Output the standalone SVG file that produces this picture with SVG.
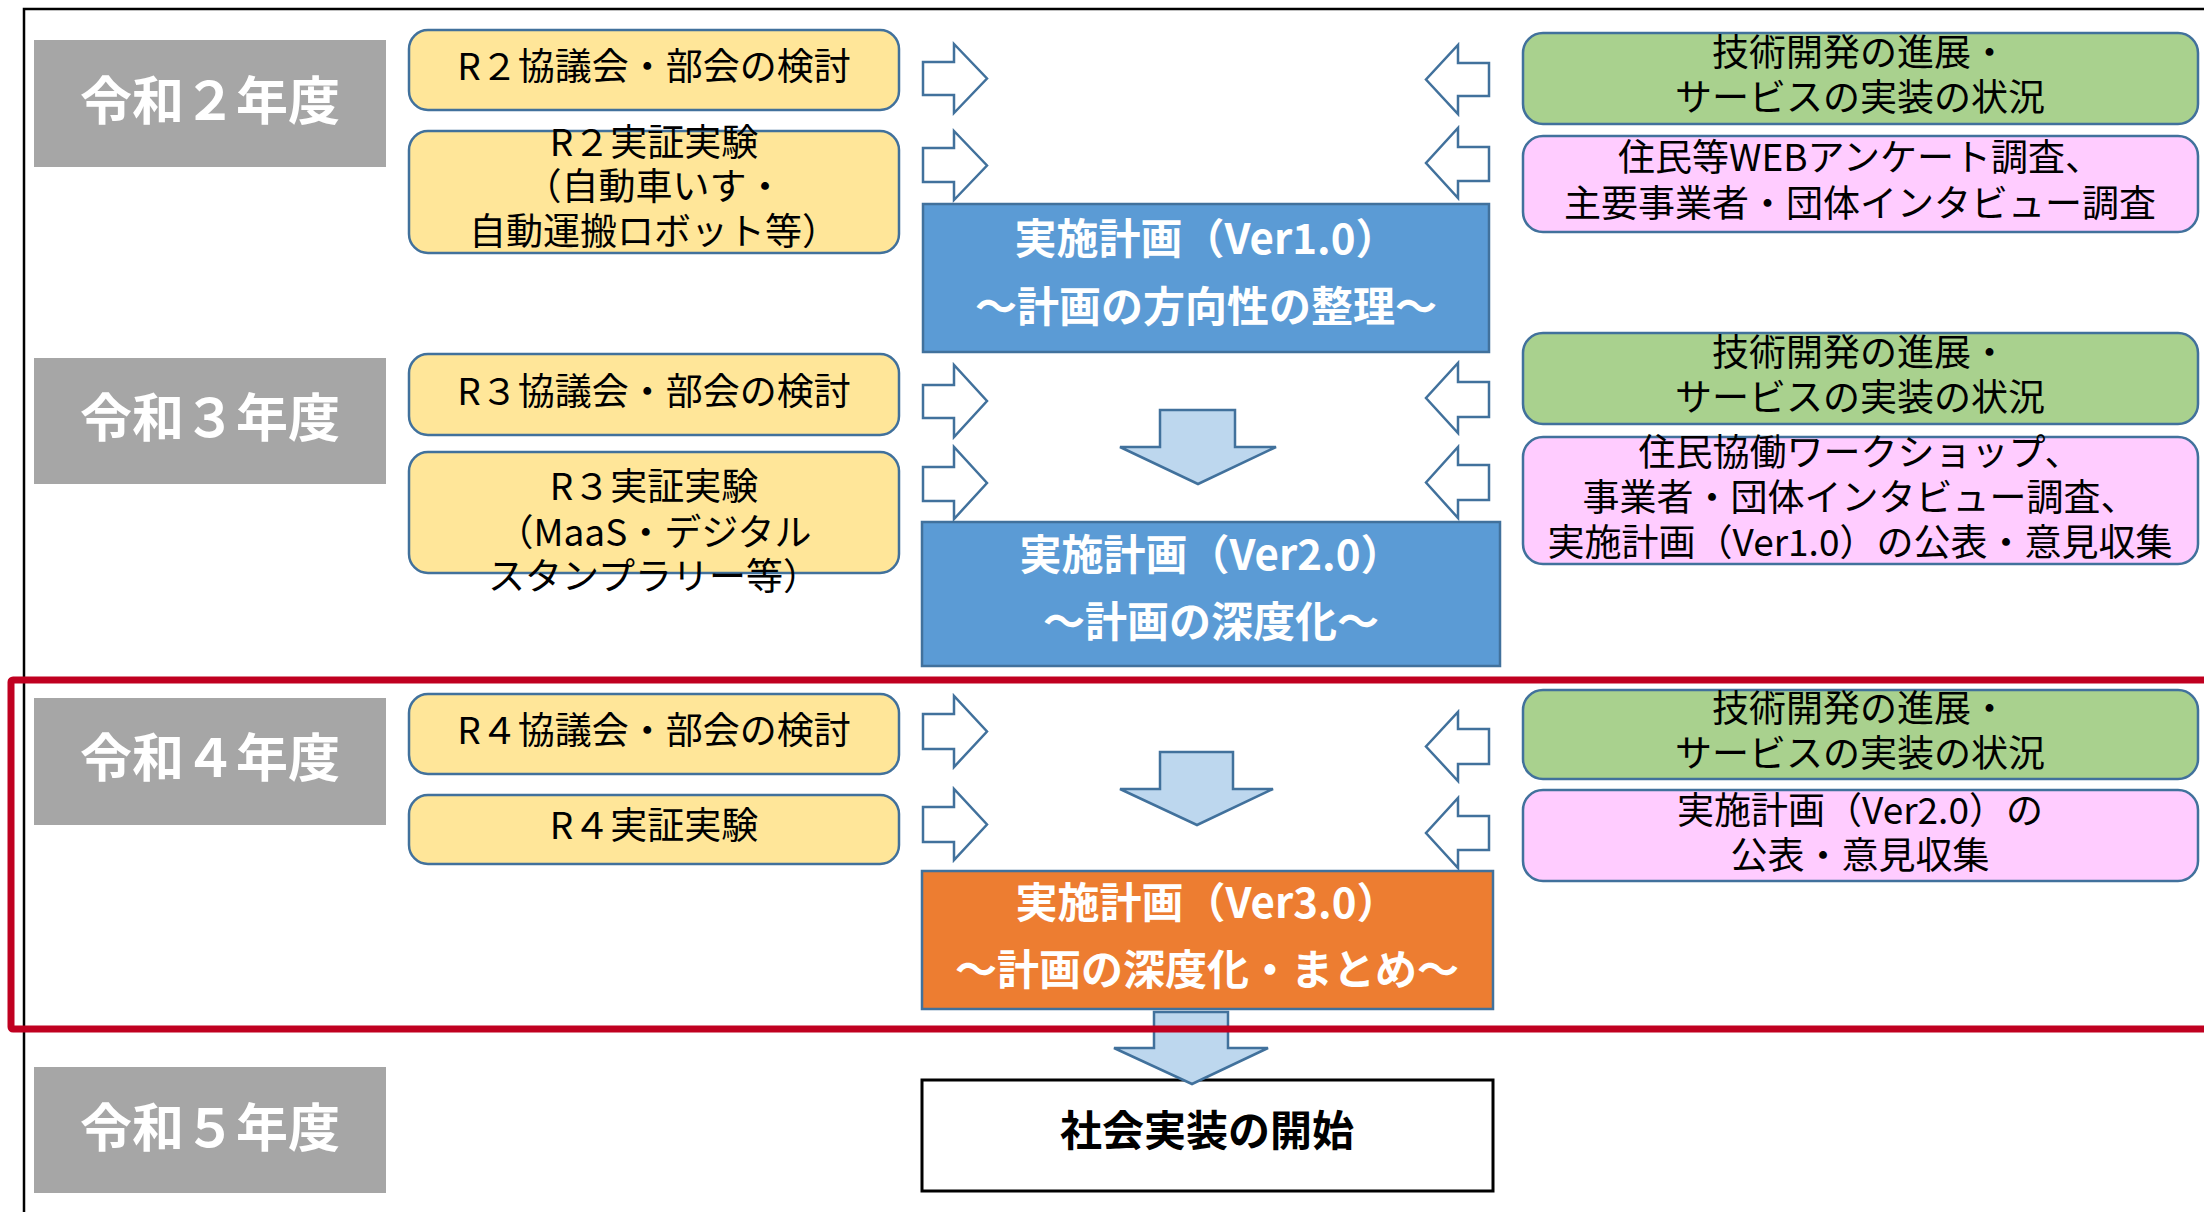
<svg xmlns="http://www.w3.org/2000/svg" width="2204" height="1212" viewBox="0 0 2204 1212">
<style>
text{font-family:"Noto Sans CJK JP","Noto Sans",sans-serif;text-anchor:middle}
.yr{fill:#A6A6A6}
.yrt{fill:#fff;font-weight:bold;font-size:52px}
.yel{fill:#FFE699;stroke:#41719C;stroke-width:2.5}
.grn{fill:#A9D18E;stroke:#41719C;stroke-width:2.5}
.pnk{fill:#FFCCFF;stroke:#41719C;stroke-width:2.5}
.t{fill:#000;font-size:37px}
.blu{fill:#5B9BD5;stroke:#41719C;stroke-width:2.5}
.org{fill:#ED7D31;stroke:#41719C;stroke-width:2.5}
.bt{fill:#fff;font-weight:bold;font-size:42px}
.hol{fill:#fff;stroke:#41719C;stroke-width:2.5;stroke-linejoin:miter}
.dn{fill:#BDD7EE;stroke:#41719C;stroke-width:2.5}
</style>
<rect id="frame" x="24" y="9" width="2200" height="1220" fill="none" stroke="#000" stroke-width="2.5"/>

<g id="year2"><rect class="yr" x="34" y="40" width="352" height="127"/><text class="yrt" x="210" y="120">令和２年度</text></g>
<g id="year3"><rect class="yr" x="34" y="358" width="352" height="126"/><text class="yrt" x="210" y="437">令和３年度</text></g>
<g id="year4"><rect class="yr" x="34" y="698" width="352" height="127"/><text class="yrt" x="210" y="777">令和４年度</text></g>
<g id="year5"><rect class="yr" x="34" y="1067" width="352" height="126"/><text class="yrt" x="210" y="1147">令和５年度</text></g>

<g id="r2council"><rect class="yel" x="409" y="30" width="490" height="80" rx="19"/><text class="t" x="654" y="80">R２協議会・部会の検討</text></g>
<g id="r2test"><rect class="yel" x="409" y="131" width="490" height="122" rx="19"/><text class="t" x="654" y="156">R２実証実験</text><text class="t" x="654" y="200">（自動車いす・</text><text class="t" x="654" y="245">自動運搬ロボット等）</text></g>
<g id="r3council"><rect class="yel" x="409" y="354" width="490" height="81" rx="19"/><text class="t" x="654" y="405">R３協議会・部会の検討</text></g>
<g id="r3test"><rect class="yel" x="409" y="452" width="490" height="121" rx="19"/><text class="t" x="654" y="500">R３実証実験</text><text class="t" x="654" y="546">（MaaS・デジタル</text><text class="t" x="654" y="590">スタンプラリー等）</text></g>
<g id="r4council"><rect class="yel" x="409" y="694" width="490" height="80" rx="19"/><text class="t" x="654" y="744">R４協議会・部会の検討</text></g>
<g id="r4test"><rect class="yel" x="409" y="795" width="490" height="69" rx="19"/><text class="t" x="654" y="839">R４実証実験</text></g>

<g id="plan1"><rect class="blu" x="923" y="204" width="566" height="148"/><text class="bt" x="1206" y="254">実施計画（Ver1.0）</text><text class="bt" x="1206" y="322">～計画の方向性の整理～</text></g>
<g id="plan2"><rect class="blu" x="922" y="522" width="578" height="144"/><text class="bt" x="1211" y="570">実施計画（Ver2.0）</text><text class="bt" x="1211" y="637">～計画の深度化～</text></g>
<g id="plan3"><rect class="org" x="922" y="871" width="571" height="138"/><text class="bt" x="1207" y="918">実施計画（Ver3.0）</text><text class="bt" x="1207" y="985">～計画の深度化・まとめ～</text></g>

<g id="tech1"><rect class="grn" x="1523" y="33" width="675" height="91" rx="20"/><text class="t" x="1860" y="66">技術開発の進展・</text><text class="t" x="1860" y="111">サービスの実装の状況</text></g>
<g id="survey1"><rect class="pnk" x="1523" y="136" width="675" height="96" rx="20"/><text class="t" x="1860" y="171">住民等WEBアンケート調査、</text><text class="t" x="1860" y="217">主要事業者・団体インタビュー調査</text></g>
<g id="tech2"><rect class="grn" x="1523" y="333" width="675" height="91" rx="20"/><text class="t" x="1860" y="366">技術開発の進展・</text><text class="t" x="1860" y="411">サービスの実装の状況</text></g>
<g id="survey2"><rect class="pnk" x="1523" y="437" width="675" height="127" rx="20"/><text class="t" x="1860" y="466">住民協働ワークショップ、</text><text class="t" x="1860" y="511">事業者・団体インタビュー調査、</text><text class="t" x="1860" y="556">実施計画（Ver1.0）の公表・意見収集</text></g>
<g id="tech3"><rect class="grn" x="1523" y="690" width="675" height="89" rx="20"/><text class="t" x="1860" y="722">技術開発の進展・</text><text class="t" x="1860" y="767">サービスの実装の状況</text></g>
<g id="survey3"><rect class="pnk" x="1523" y="790" width="675" height="91" rx="20"/><text class="t" x="1860" y="824">実施計画（Ver2.0）の</text><text class="t" x="1860" y="869">公表・意見収集</text></g>

<g id="start"><rect x="922" y="1080" width="571" height="111" fill="#fff" stroke="#000" stroke-width="3"/><text x="1207" y="1146" font-weight="bold" font-size="42px" fill="#000">社会実装の開始</text></g>

<g id="connectors">
<path class="hol" d="M923,62 H954 V44 L987,78.5 L954,113 V95 H923 Z"/>
<path class="hol" d="M923,148 H954 V131 L987,165.5 L954,200 V182 H923 Z"/>
<path class="hol" d="M923,385 H954 V365 L987,401 L954,437 V418 H923 Z"/>
<path class="hol" d="M923,467 H954 V447 L987,483 L954,519 V501 H923 Z"/>
<path class="hol" d="M923,714 H954 V696 L987,731.5 L954,767 V749 H923 Z"/>
<path class="hol" d="M923,807 H954 V789 L987,824.5 L954,860 V842 H923 Z"/>
<path class="hol" d="M1489,63 H1458 V45 L1426,79.5 L1458,114 V96 H1489 Z"/>
<path class="hol" d="M1489,147 H1458 V128 L1426,163 L1458,198 V181 H1489 Z"/>
<path class="hol" d="M1489,382 H1458 V363 L1426,398 L1458,433 V417 H1489 Z"/>
<path class="hol" d="M1489,465 H1458 V447 L1426,482.5 L1458,518 V500 H1489 Z"/>
<path class="hol" d="M1489,729 H1458 V712 L1426,746.5 L1458,781 V764 H1489 Z"/>
<path class="hol" d="M1489,816 H1458 V798 L1426,833 L1458,868 V850 H1489 Z"/>
<path class="dn" d="M1160,410 H1235 V447 H1276 L1198,484 L1120,447 H1160 Z"/>
<path class="dn" d="M1160,752 H1233 V789 H1273 L1197,825 L1120,789 H1160 Z"/>
<path class="dn" d="M1154,1012 H1228 V1048 H1268 L1192,1084 L1114,1048 H1154 Z"/>
</g>

<rect id="highlight" x="11" y="680" width="2220" height="349" fill="none" stroke="#C00020" stroke-width="7" rx="2"/>
</svg>
